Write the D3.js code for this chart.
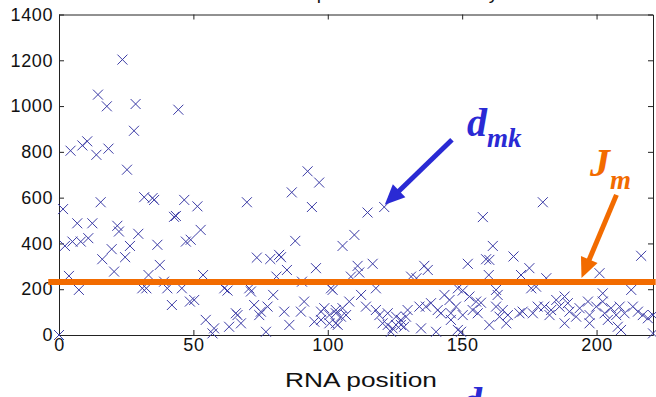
<!DOCTYPE html>
<html>
<head>
<meta charset="utf-8">
<script src="https://cdn.jsdelivr.net/npm/d3@7"></script>
<style>
  body { margin: 0; background: #fff; }
  text { font-family: "Liberation Sans", Arial, sans-serif; }
</style>
</head>
<body>
<div id="chart"></div>
<script>
// RNA position of every marker
var positions = [
  0, 1.5, 2.2, 3.7, 4.3, 5, 6.8, 7.4, 8.1, 8.7, 10.5, 10.9, 12.4, 13.9, 14.5, 15.5, 16.1, 17.8, 18.4, 19.6,
  20.5, 21.7, 22.3, 23.6, 24.6, 25.3, 26.4, 27.9, 28.5, 29.5, 31, 31.7, 32.5, 33.3, 34.8, 35.4, 36.6, 37.5, 39.1, 40.3,
  42, 42.8, 43.5, 44.4, 45.7, 46.6, 47.2, 48.7, 49, 50.3,
  51.5, 52.7, 53.6, 54.6, 57.1, 57.7, 61.5, 62.7, 63.3, 65.8, 66.4, 67.7, 69.9, 70.8, 71.4, 72.6, 73.6, 74.5, 75.1, 77,
  77.6, 78.6, 79.7, 80.9, 81.9, 82.6, 83.8, 84.8, 85.7, 86.6, 87.9, 90, 90.4, 91.2, 92.5, 94.1, 95, 95.6, 96.8, 97.5,
  97.5, 98.7, 100.6, 101.2, 103, 103,
  100.6, 101.8, 103, 103.7, 104.9, 105.5, 105.5, 106.8, 108, 108.6, 109.9, 111.1, 111.7, 112.4, 114.2, 114.8, 116.7, 117.9, 117.9, 119.2,
  120.4, 121, 122.3, 122.3, 123.5, 124.1, 125.4, 125.4, 127.2, 127.2, 128.4, 129.1, 129.7, 131, 133, 134.1, 134.7, 135.9, 136.5, 137.2,
  138.4, 140.3, 140.9, 142.1, 143.4, 145.3, 145.8, 145.8, 147.7, 148.4, 148.4, 149.6, 150.2, 150.2, 152.1, 152.7, 153.9, 155.2, 155.8, 157,
  157.7, 158.9, 159.9, 160.1, 160.1, 161.4, 162.6, 163.2,
  162.6, 163.9, 165.1, 166.4, 167, 169.1, 171.3, 171.9, 172.5, 175, 175.7, 176.3, 177.5, 178.1, 180, 180.6, 181.3, 182.5, 183.1, 185,
  186.2, 188.1, 188.1, 189.3, 189.9, 192.4, 193.7, 196.8, 197.4, 197.4, 199.9, 201.1, 202.3, 202.3, 203, 204.2, 205.4, 207.3, 207.9, 208.6,
  209.1, 210.4, 212.9, 213.5, 215.4, 216.6, 217.2, 219.1, 221, 221
];
// distance d_mk read at each of those positions
var distances = [
  0, 550, 389, 258, 805, 408, 488, 197, 408, 828, 846, 423, 488, 787, 1050, 580, 331, 999, 814, 375,
  277, 477, 452, 1203, 340, 722, 389, 892, 1009, 442, 204, 602, 204, 262, 598, 590, 394, 306, 233, 204,
  131, 516, 520, 984, 204, 590, 408, 146, 416, 153,
  562, 459, 262, 66, 7, 29, 204, 194, 36, 95, 87, 51, 580, 204, 190, 131, 338, 87, 102, 14,
  124, 332, 175, 255, 350, 340, 102, 284, 44, 623, 411, 102, 233, 146, 715, 559, 58, 292, 666, 102,
  66, 117, 51, 204, 95, 51,
  87, 197, 109, 44, 80, 389, 117, 87, 146, 255, 437, 302, 273, 175, 124, 535, 311, 204, 109, 87,
  51, 559, 95, 44, 14, 29, 80, 44, 66, 44, 36, 80, 109, 255, 248, 124, 29, 302, 124, 284,
  139, 14, 109, 95, 175, 153, 95, 66, 124, 204, 22, 14, 194, 87, 311, 168, 109, 146, 95, 141,
  515, 331, 262, 328, 44, 389, 197, 175,
  124, 80, 109, 51, 87, 343, 95, 262, 102, 292, 204, 95, 211, 124, 580, 124, 248, 87, 109, 153,
  124, 168, 51, 139, 102, 80, 117, 146, 87, 51, 124, 270, 182, 146, 95, 66, 117, 87, 36, 124,
  22, 95, 197, 124, 102, 346, 87, 73, 87, 7
];
var xTicks = [0, 50, 100, 150, 200];
var yTicks = [0, 200, 400, 600, 800, 1000, 1200, 1400];
var xDomain = [0, 221];
var yDomain = [0, 1400];

// threshold J_m and its extent along x
var thresholdValue = 232;
var thresholdSpan = [-4, 222];

// annotation arrows, [tailX, tailY, tipX, tipY] in data units
var dmkArrow = [146.2, 853, 121.2, 569];
var jmArrow = [207.4, 612, 194.4, 249];

var width = 656, height = 397;
var margin = {top: 14.5, right: 3, bottom: 62, left: 59};

var x = d3.scaleLinear().domain(xDomain).range([margin.left, width - margin.right]);
var y = d3.scaleLinear().domain(yDomain).range([height - margin.bottom, margin.top]);

var svg = d3.select("#chart").append("svg")
    .attr("width", width)
    .attr("height", height);

// axes, box style with inward ticks
svg.append("g")
    .attr("class", "axis")
    .attr("transform", "translate(0," + y(0) + ")")
    .call(d3.axisBottom(x).tickValues(xTicks).tickSizeInner(-5).tickSizeOuter(0).tickPadding(3).tickFormat(d3.format("d")));
svg.append("g")
    .attr("class", "axis")
    .attr("transform", "translate(" + x(0) + ",0)")
    .call(d3.axisLeft(y).tickValues(yTicks).tickSizeInner(-5).tickSizeOuter(0).tickPadding(6).tickFormat(d3.format("d")));
svg.append("g")
    .attr("class", "axis")
    .attr("transform", "translate(0," + y(1400) + ")")
    .call(d3.axisTop(x).tickValues(xTicks).tickSizeInner(-5).tickSizeOuter(0).tickFormat(""));
svg.append("g")
    .attr("class", "axis")
    .attr("transform", "translate(" + x(xDomain[1]) + ",0)")
    .call(d3.axisRight(y).tickValues(yTicks).tickSizeInner(-5).tickSizeOuter(0).tickFormat(""));

svg.selectAll(".axis path, .axis line").attr("stroke", "#222").attr("stroke-width", 1);
svg.selectAll(".axis text")
    .attr("fill", "#111")
    .style("font-size", "18px")
    .style("letter-spacing", "0.6px");

// markers
svg.append("g").selectAll("path")
    .data(positions)
    .join("path")
    .attr("transform", function(d, i) { return "translate(" + x(d) + "," + y(distances[i]) + ")"; })
    .attr("d", "M-5,-5L5,5M-5,5L5,-5")
    .attr("stroke", "#3c3ca6")
    .attr("stroke-width", 1)
    .attr("fill", "none");

// threshold line
var line = d3.line()
    .x(function(d) { return x(d); })
    .y(function() { return y(thresholdValue); });
svg.append("path")
    .attr("d", line(thresholdSpan))
    .attr("stroke", "#f26b00")
    .attr("stroke-width", 6)
    .attr("fill", "none");

// arrows
function arrow(a, color) {
  var x1 = x(a[0]), y1 = y(a[1]), x2 = x(a[2]), y2 = y(a[3]);
  var dx = x2 - x1, dy = y2 - y1, len = Math.sqrt(dx * dx + dy * dy);
  var ux = dx / len, uy = dy / len;
  var headLen = 20, headW = 9;
  var bx = x2 - ux * headLen, by = y2 - uy * headLen;
  svg.append("line")
      .attr("x1", x1).attr("y1", y1)
      .attr("x2", bx + ux * 2).attr("y2", by + uy * 2)
      .attr("stroke", color)
      .attr("stroke-width", 5);
  svg.append("path")
      .attr("d", "M" + x2 + "," + y2 +
                 "L" + (bx - uy * headW) + "," + (by + ux * headW) +
                 "L" + (bx + uy * headW) + "," + (by - ux * headW) + "Z")
      .attr("fill", color);
}
arrow(dmkArrow, "#2a2ad4");
arrow(jmArrow, "#f26b00");

// annotation labels
var dLabel = svg.append("text")
    .attr("x", 467).attr("y", 136)
    .attr("fill", "#2a2ad4")
    .style("font-family", "'Liberation Serif', 'Times New Roman', serif")
    .style("font-weight", "bold").style("font-style", "italic")
    .style("font-size", "40px")
    .text("d");
dLabel.append("tspan")
    .attr("dy", 11)
    .style("font-size", "27px")
    .text("mk");

var jLabel = svg.append("text")
    .attr("x", 590).attr("y", 176)
    .attr("fill", "#f26b00")
    .style("font-family", "'Liberation Serif', 'Times New Roman', serif")
    .style("font-weight", "bold").style("font-style", "italic")
    .style("font-size", "40px")
    .text("J");
jLabel.append("tspan")
    .attr("dy", 13)
    .style("font-size", "27px")
    .text("m");

// label cut off at the bottom edge, as in the source slide
svg.append("text")
    .attr("x", 462).attr("y", 415)
    .attr("fill", "#2a2ad4")
    .style("font-family", "'Liberation Serif', 'Times New Roman', serif")
    .style("font-weight", "bold").style("font-style", "italic")
    .style("font-size", "40px")
    .text("d");

// axis title
svg.append("text")
    .attr("x", 285).attr("y", 387)
    .attr("textLength", 152)
    .attr("lengthAdjust", "spacingAndGlyphs")
    .attr("fill", "#111")
    .style("font-size", "21px")
    .text("RNA position");

// title, cropped at the top edge so only descenders show
svg.append("text")
    .attr("x", 228).attr("y", -1.5)
    .attr("fill", "#111")
    .style("font-size", "19px")
    .text("Distances per residue in the key");
</script>
</body>
</html>
